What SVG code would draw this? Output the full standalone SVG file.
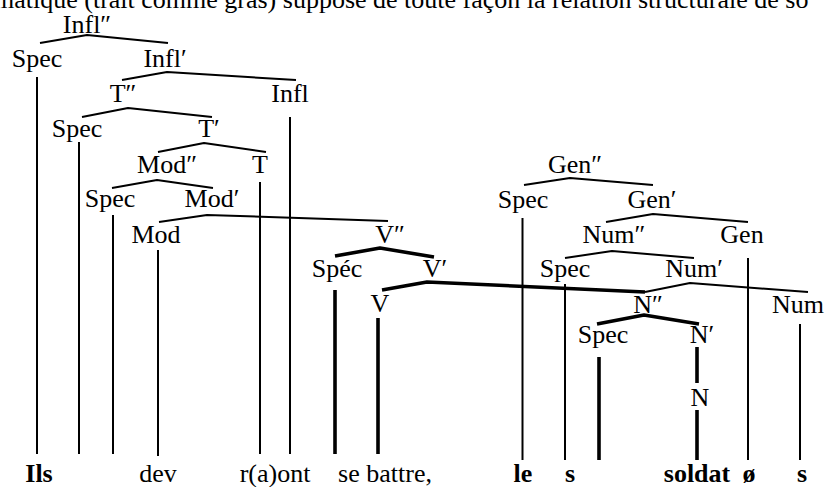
<svg xmlns="http://www.w3.org/2000/svg" width="826" height="487" viewBox="0 0 826 487">
<style>
text{font-family:'Liberation Serif','Times New Roman',serif;font-size:26px;fill:#000}
.l{text-anchor:middle}
.b{font-weight:bold;text-anchor:middle}
.e{fill:none;stroke:#000;stroke-width:2;stroke-linejoin:round}
.t{fill:none;stroke:#000;stroke-width:3.6;stroke-linejoin:round}
</style>
<rect width="826" height="487" fill="#fff"/>
<text x="-6" y="7.5">matique (trait comme gras) suppose de toute façon la relation structurale de so</text>
<g id="connectors">
<polyline class="e" points="40,43 87,35 168,43"/>
<polyline class="e" points="122,80 167,72 296,80"/>
<polyline class="e" points="82,117 128,108 212,117"/>
<polyline class="e" points="158,152 204,143 266,152"/>
<polyline class="e" points="112,188 157,180 213,188"/>
<polyline class="e" points="159,222 207,215 388,221"/>
<polyline class="e" points="524,185 570,178 653,185"/>
<polyline class="e" points="606,222 653,214 748,222"/>
<polyline class="e" points="565,258 612,251 694,258"/>
<polyline class="e" points="645,292 690,283 808,292"/>
<polyline class="t" points="335,256 380,248 434,257"/>
<polyline class="t" points="382,290 427,282 645,292"/>
<polyline class="t" points="597,324 644,315 699,324"/>
<line class="e" x1="37" y1="77" x2="37" y2="454"/>
<line class="e" x1="79" y1="142" x2="79" y2="454"/>
<line class="e" x1="113" y1="215" x2="113" y2="454"/>
<line class="e" x1="158" y1="250" x2="158" y2="456"/>
<line class="e" x1="260" y1="182" x2="260" y2="454"/>
<line class="e" x1="290" y1="117" x2="290" y2="454"/>
<line class="e" x1="522.5" y1="218" x2="522.5" y2="460"/>
<line class="e" x1="565" y1="284" x2="565" y2="460"/>
<line class="e" x1="748" y1="258" x2="748" y2="460"/>
<line class="e" x1="800" y1="324" x2="800" y2="460"/>
<line class="t" x1="335" y1="290" x2="335" y2="454"/>
<line class="t" x1="378" y1="318" x2="378" y2="454"/>
<line class="t" x1="599" y1="357" x2="599" y2="460"/>
<line class="t" x1="697" y1="347" x2="697" y2="383"/>
<line class="t" x1="697" y1="410" x2="697" y2="460"/>
</g>
<g id="n-inflpp"><text class="l" x="87" y="33">Infl″</text></g>
<g id="n-spec1"><text class="l" x="37" y="67">Spec</text></g>
<g id="n-inflp"><text class="l" x="165" y="67">Infl′</text></g>
<g id="n-tpp"><text class="l" x="123" y="102">T″</text></g>
<g id="n-infl"><text class="l" x="290" y="102">Infl</text></g>
<g id="n-spec2"><text class="l" x="77" y="137">Spec</text></g>
<g id="n-tp"><text class="l" x="209" y="137">T′</text></g>
<g id="n-modpp"><text class="l" x="167" y="173">Mod″</text></g>
<g id="n-t"><text class="l" x="260" y="173">T</text></g>
<g id="n-spec3"><text class="l" x="110" y="207">Spec</text></g>
<g id="n-modp"><text class="l" x="212" y="207">Mod′</text></g>
<g id="n-mod"><text class="l" x="156" y="243">Mod</text></g>
<g id="n-vpp"><text class="l" x="390" y="243">V″</text></g>
<g id="n-specv"><text class="l" x="337" y="277">Spéc</text></g>
<g id="n-vp"><text class="l" x="435" y="277">V′</text></g>
<g id="n-v"><text class="l" x="380" y="312">V</text></g>
<g id="n-genpp"><text class="l" x="575" y="173">Gen″</text></g>
<g id="n-specg"><text class="l" x="523" y="208">Spec</text></g>
<g id="n-genp"><text class="l" x="652" y="208">Gen′</text></g>
<g id="n-numpp"><text class="l" x="614" y="243">Num″</text></g>
<g id="n-gen"><text class="l" x="742" y="243">Gen</text></g>
<g id="n-specn"><text class="l" x="565" y="277">Spec</text></g>
<g id="n-nump"><text class="l" x="694" y="277">Num′</text></g>
<g id="n-npp"><text class="l" x="648" y="313">N″</text></g>
<g id="n-num"><text class="l" x="798" y="313">Num</text></g>
<g id="n-specnn"><text class="l" x="603" y="343">Spec</text></g>
<g id="n-np"><text class="l" x="702" y="343">N′</text></g>
<g id="n-n"><text class="l" x="700" y="406">N</text></g>
<g id="words">
<text class="b" x="39" y="482">Ils</text>
<text class="l" x="158" y="482">dev</text>
<text class="l" x="275" y="482">r(a)ont</text>
<text class="l" x="385" y="482">se battre,</text>
<text class="b" x="523" y="482">le</text>
<text class="b" x="570" y="482">s</text>
<text class="b" x="697" y="482">soldat</text>
<text class="b" x="749" y="482">ø</text>
<text class="b" x="802" y="482">s</text>
</g>
</svg>
